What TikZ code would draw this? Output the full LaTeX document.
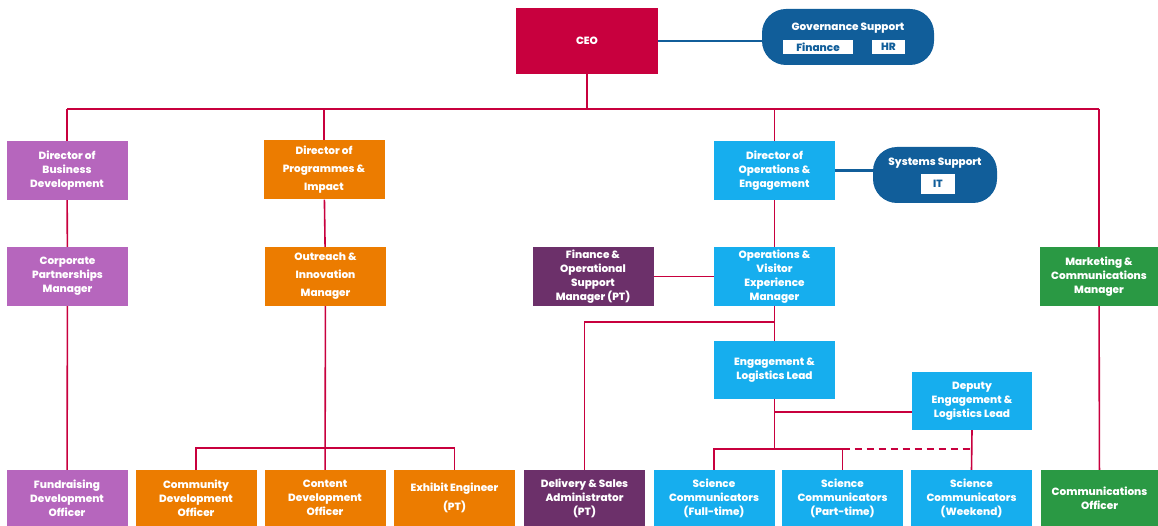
\documentclass[tikz,border=0pt]{standalone}
\usepackage{fontspec}
\setmainfont{Poppins}[BoldFont={Poppins ExtraBold}]
\usetikzlibrary{positioning}

\definecolor{ceored}{RGB}{200,0,62}
\definecolor{bizpurple}{RGB}{182,102,189}
\definecolor{progorange}{RGB}{236,124,0}
\definecolor{opsblue}{RGB}{22,174,238}
\definecolor{plum}{RGB}{108,48,106}
\definecolor{mktgreen}{RGB}{42,153,68}
\definecolor{navy}{RGB}{17,94,154}

\begin{document}
\begin{tikzpicture}[x=1pt,y=-1pt,
  unit/.style={fill=#1, text=white, font=\bfseries\fontsize{10.5}{14}\selectfont,
    align=center, minimum width=121pt, minimum height=59pt, inner sep=0pt},
  wide/.style={font=\bfseries\fontsize{10.5}{18}\selectfont},
  low/.style={minimum height=56pt},
  link/.style={draw=ceored, line width=1.6pt},
  navylink/.style={draw=navy, line width=2.6pt},
  support/.style={fill=navy, rounded corners=24pt, minimum height=56pt, inner sep=0pt},
  supporttitle/.style={text=white, font=\bfseries\fontsize{10.5}{12}\selectfont, inner sep=0pt},
  tag/.style={fill=white, text=navy, font=\bfseries\fontsize{10.5}{12}\selectfont,
    minimum height=14pt, inner sep=0pt}]
  \useasboundingbox (0,0) rectangle (1158,526);

  % CEO and governance
  \node[unit=ceored, minimum width=142pt, minimum height=66pt] (ceo) at (587,41) {CEO};
  \node[support, minimum width=172pt] (gov) at (848,37) {};
  \node[supporttitle] (govtitle) at (848,28) {Governance Support};
  \node[tag, minimum width=70pt] (fin) at (818,47) {Finance};
  \node[tag, minimum width=33pt] (hr) at (888.5,47) {HR};

  % Directors
  \node[unit=bizpurple] (bizdir) at (67,170.5) {Director of\\Business\\Development};
  \node[unit=progorange, wide] (progdir) at (324,170) {Director of\\Programmes \&\\Impact};
  \node[unit=opsblue] (opsdir) at (774.5,170.5) {Director of\\Operations \&\\Engagement};
  \node[support, minimum width=124pt] (sys) at (935,175) {};
  \node[supporttitle] (systitle) at (935,163) {Systems Support};
  \node[tag, minimum width=34pt, minimum height=20pt] (it) at (938,184) {IT};

  % Managers
  \node[unit=bizpurple] (corpmgr) at (67.5,276.5) {Corporate\\Partnerships\\Manager};
  \node[unit=progorange, wide] (outreach) at (325.5,276.5) {Outreach \&\\Innovation\\Manager};
  \node[unit=plum] (finmgr) at (593,276.5) {Finance \&\\Operational\\Support\\Manager (PT)};
  \node[unit=opsblue] (opsmgr) at (774.5,276.5) {Operations \&\\Visitor\\Experience\\Manager};
  \node[unit=mktgreen, minimum width=118pt] (mktmgr) at (1099,276.5) {Marketing \&\\Communications\\Manager};

  % Leads
  \node[unit=opsblue, minimum height=58pt] (englead) at (774.5,370) {Engagement \&\\Logistics Lead};
  \node[unit=opsblue, minimum width=120pt, minimum height=58pt] (deputy) at (972,401) {Deputy\\Engagement \&\\Logistics Lead};

  % Officers
  \node[unit=bizpurple, low] (fundraise) at (67,498) {Fundraising\\Development\\Officer};
  \node[unit=progorange, low] (community) at (196,498) {Community\\Development\\Officer};
  \node[unit=progorange, low] (content) at (325,498) {Content\\Development\\Officer};
  \node[unit=progorange, low] (exhibit) at (454.5,498) {Exhibit Engineer\\[5pt](PT)};
  \node[unit=plum, low] (delivery) at (584.5,498) {Delivery \& Sales\\Administrator\\(PT)};
  \node[unit=opsblue, low] (scift) at (714,498) {Science\\Communicators\\(Full-time)};
  \node[unit=opsblue, low] (scipt) at (842.5,498) {Science\\Communicators\\(Part-time)};
  \node[unit=opsblue, low] (sciwe) at (971.5,498) {Science\\Communicators\\(Weekend)};
  \node[unit=mktgreen, low, minimum width=118pt] (commsoff) at (1099.5,498) {Communications\\Officer};

  % Support links
  \draw[navylink] (ceo.east) -- (ceo.east -| gov.west);
  \draw[navylink] (opsdir.east) -- (opsdir.east -| sys.west);

  % Top bus
  \coordinate (bus) at (0,109);
  \draw[link] (ceo.south) -- (ceo.south |- bus);
  \draw[link] (bizdir.north |- bus) -- (mktmgr.north |- bus);
  \foreach \n in {bizdir,progdir,opsdir,mktmgr}
    \draw[link] (\n.north |- bus) -- (\n.north);

  % Business and marketing lines
  \draw[link] (bizdir) -- (corpmgr);
  \draw[link] (corpmgr) -- (fundraise);
  \draw[link] (mktmgr) -- (commsoff);

  % Programmes lines
  \coordinate (obus) at (0,448);
  \draw[link] (progdir) -- (outreach);
  \draw[link] (outreach) -- (content);
  \draw[link] (community.north) -- (community.north |- obus) -- (exhibit.north |- obus) -- (exhibit.north);

  % Operations lines
  \coordinate (dbus) at (0,322);
  \coordinate (dbranch) at (0,412);
  \coordinate (sbus) at (0,449);
  \draw[link] (opsdir) -- (opsmgr);
  \draw[link] (finmgr) -- (opsmgr);
  \draw[link] (opsmgr) -- (englead);
  \draw[link] (opsmgr.south |- dbus) -| (delivery.north);
  \draw[link] (englead.south) -- (englead.south |- sbus);
  \draw[link] (englead.south |- dbranch) -- (deputy.west |- dbranch);
  \draw[link] (scift.north) -- (scift.north |- sbus) -- (scipt.north |- sbus) -- (scipt.north);
  \draw[link, dash pattern=on 7pt off 5pt] (scipt.north |- sbus) -- (deputy.south |- sbus);
  \draw[link] (deputy.south) -- (sciwe.north);
\end{tikzpicture}
\end{document}
